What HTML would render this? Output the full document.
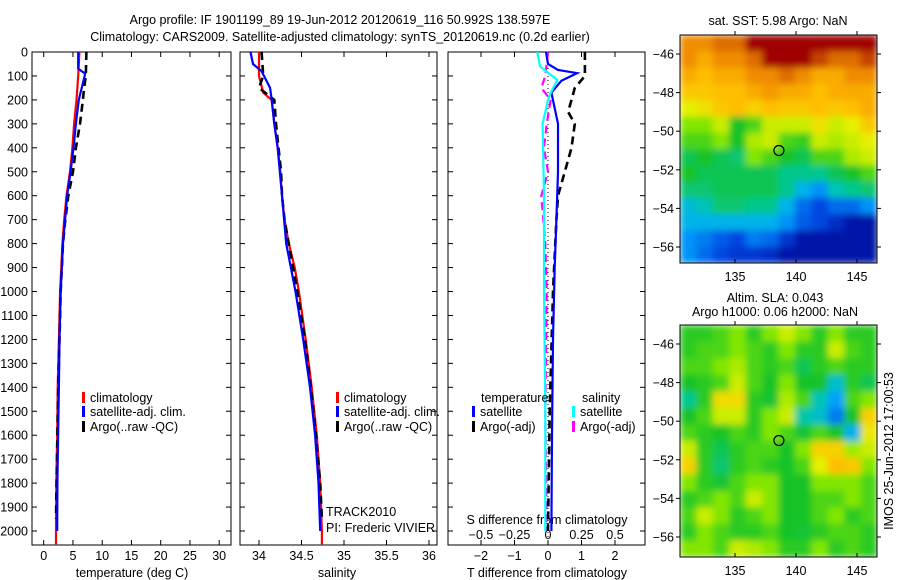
<!DOCTYPE html>
<html><head><meta charset="utf-8"><style>
body{margin:0;background:#fff}
svg{display:block;font-family:"Liberation Sans",sans-serif;font-size:12.5px}
</style></head><body>
<svg id="fig" width="900" height="580" viewBox="0 0 900 580"></svg>
<script>
// ---------- data ----------
const tDepth=[0,100,200,300,400,500,600,700,800,900,1000,1200,1400,1600,1800,2000,2055];
const tClim=[6.1,5.9,5.6,5.2,4.9,4.5,3.9,3.5,3.2,3.0,2.8,2.6,2.4,2.3,2.15,2.1,2.1];
const tSatDepth=[0,70,90,200,300,400,500,600,800,1000,1200,1400,1550,1800,2000];
const tSat=[5.9,5.9,7.1,6.0,5.5,5.1,4.6,4.0,3.3,2.9,2.7,2.6,2.5,2.35,2.3];
const argoDepth=[0,100,150,200,300,400,500,600,700,800,1000,1200,1400,1600,1800,1950];
const tArgo=[7.3,7.2,6.9,6.7,6.2,5.5,5.0,4.2,3.7,3.3,2.9,2.7,2.5,2.35,2.2,2.1];
const sClim=[34.0,34.0,34.05,34.15,34.18,34.22,34.25,34.27,34.3,34.35,34.42,34.47,34.55,34.62,34.68,34.72,34.74,34.74];
const sClimDepth=[0,100,170,200,300,400,500,600,700,800,900,1000,1200,1400,1600,1800,2000,2055];
const sSatDepth=[0,50,80,150,200,300,400,600,800,1000,1200,1400,1600,1800,2000];
const sSat=[33.9,33.93,34.03,34.13,34.15,34.18,34.22,34.27,34.32,34.43,34.52,34.6,34.66,34.7,34.72];
const sArgo=[34.03,34.05,34.0,34.18,34.2,34.23,34.26,34.27,34.3,34.35,34.45,34.54,34.61,34.67,34.72,34.74];
const dDepth=[0,50,75,88,120,170,300,500,700,900,1200,1600,2000];
const dT=[-0.06,0.0,0.3,0.87,0.4,0.1,0.3,0.3,0.25,0.2,0.15,0.12,0.1];
const dArgoDepth=[0,100,150,200,250,300,400,500,600,700,1000,1500,2000];
const dTArgo=[1.1,1.1,0.8,0.7,0.6,0.8,0.7,0.5,0.3,0.25,0.15,0.05,0.0];
const dSDepth=[0,60,117,170,200,300,600,1000,1500,2000];
const dS=[-0.08,-0.06,0.07,0.02,0.0,-0.04,-0.03,-0.03,-0.02,-0.02];
const dSArgoDepth=[0,100,150,200,300,400,500,600,800,1000,1500,2000];
const dSArgo=[0.0,-0.02,-0.05,0.02,-0.01,-0.03,0.0,-0.05,-0.02,-0.01,-0.02,-0.01];
const depthTicks=[0,100,200,300,400,500,600,700,800,900,1000,1100,1200,1300,1400,1500,1600,1700,1800,1900,2000];
const tTicks=[0,5,10,15,20,25,30];
const sTicks=[34,34.5,35,35.5,36];
const dTTicks=[-2,-1,0,1,2];
const dSTicks=[-0.5,-0.25,0,0.25,0.5];
const sstGrid=[
[.8,.8,.85,.85,.95,.95,.95,.95,.95,.95,.95,.95],
[.8,.75,.8,.8,.85,.95,.95,.95,.9,.85,.85,.9],
[.75,.72,.75,.75,.8,.8,.85,.8,.75,.75,.8,.8],
[.7,.7,.72,.72,.75,.78,.75,.75,.72,.75,.75,.75],
[.62,.65,.7,.72,.68,.72,.7,.7,.72,.7,.72,.75],
[.55,.55,.6,.45,.5,.6,.6,.6,.65,.6,.62,.7],
[.5,.5,.55,.45,.58,.6,.5,.48,.6,.58,.6,.62],
[.42,.45,.42,.4,.55,.5,.45,.42,.5,.5,.58,.6],
[.45,.42,.42,.42,.42,.42,.38,.38,.38,.42,.45,.5],
[.4,.4,.42,.42,.42,.42,.38,.3,.25,.35,.38,.4],
[.32,.35,.4,.4,.38,.38,.3,.2,.15,.2,.2,.25],
[.3,.3,.3,.3,.3,.3,.25,.18,.15,.1,.05,.05],
[.25,.22,.18,.15,.22,.2,.12,.05,.05,.05,.05,.05],
[.25,.2,.15,.12,.12,.1,.05,.05,.05,.05,.05,.05]];
const slaGrid=[
[.47,.47,.5,.55,.47,.55,.6,.55,.47,.55,.47,.47],
[.47,.5,.5,.55,.5,.47,.55,.47,.47,.6,.5,.47],
[.5,.5,.55,.58,.5,.47,.5,.42,.47,.5,.47,.47],
[.45,.47,.5,.6,.5,.45,.55,.45,.45,.33,.47,.42],
[.38,.47,.66,.66,.47,.44,.58,.5,.35,.27,.5,.55],
[.45,.5,.6,.6,.47,.55,.6,.36,.33,.22,.45,.68],
[.5,.47,.45,.5,.47,.55,.5,.44,.5,.45,.3,.64],
[.6,.47,.42,.47,.5,.5,.45,.55,.68,.68,.57,.6],
[.68,.47,.4,.47,.5,.47,.45,.5,.62,.72,.7,.55],
[.55,.47,.44,.5,.55,.55,.45,.45,.55,.55,.55,.5],
[.47,.5,.55,.5,.6,.55,.45,.45,.5,.5,.55,.5],
[.5,.6,.55,.47,.5,.55,.45,.45,.5,.55,.47,.5],
[.47,.55,.5,.47,.47,.5,.45,.44,.47,.5,.5,.47],
[.55,.55,.5,.6,.58,.55,.47,.47,.55,.47,.5,.47]];
const lonTicks=[135,140,145];
const latTicks=[-46,-48,-50,-52,-54,-56];
const argoLon=138.6, argoLat=-51.0;

// ---------- helpers ----------
const NS="http://www.w3.org/2000/svg", svg=document.getElementById('fig');
function el(tag,attrs,parent){const e=document.createElementNS(NS,tag);for(const k in attrs)e.setAttribute(k,attrs[k]);(parent||svg).appendChild(e);return e;}
function txt(x,y,s,anchor,name,extra){const t=el('text',Object.assign({x:x,y:y,'text-anchor':anchor||'start',fill:'#000'},extra||{}));t.textContent=s;


return t;}
const Y0=52, Y1=545, depthY=d=>Y0+d*0.2395;
function lin(d0,d1,p0,p1){return v=>p0+(v-d0)*(p1-p0)/(d1-d0);}
function line(xs,ds,fx,color,dash,name,w){
  const pts=xs.map((v,i)=>fx(v).toFixed(1)+','+depthY(ds[i]).toFixed(1)).join(' ');
  const p=el('polyline',{points:pts,fill:'none',stroke:color,'stroke-width':w||2.2});
  if(dash)p.setAttribute('stroke-dasharray',dash);
  
  
}
function panel(x0,x1,name){const r=el('rect',{x:x0,y:Y0,width:x1-x0,height:Y1-Y0,fill:'none',stroke:'#000','stroke-width':1});

}
function xticks(ticks,fx,y,labels,name){ticks.forEach(v=>{const x=fx(v);
  el('line',{x1:x,x2:x,y1:Y1,y2:Y1-5,stroke:'#000'});el('line',{x1:x,x2:x,y1:Y0,y2:Y0+5,stroke:'#000'});
  if(labels)txt(x,y,String(v).replace('-','\u2212'),'middle',name);});}
function legend(x,y,color,label,name){const r=el('rect',{x:x,y:y-10,width:3,height:11,fill:color});


txt(x+8,y,label,'start',name);}

const defs=el('defs',{});
const flt=el('filter',{id:'soft',x:'-5%',y:'-5%',width:'110%',height:'110%'},defs);
el('feGaussianBlur',{stdDeviation:'3.5',edgeMode:'duplicate'},flt);

// titles
txt(340,24,'Argo profile: IF 1901199_89 19-Jun-2012 20120619_116 50.992S 138.597E','middle','figure-title');
txt(340,41,'Climatology: CARS2009. Satellite-adjusted climatology: synTS_20120619.nc (0.2d earlier)','middle','figure-subtitle');

// panel 1 temperature
const fT=lin(0,30,43.7,219.2);
panel(32,231,'temperature-panel');
depthTicks.forEach(d=>{const y=depthY(d);el('line',{x1:32,x2:37,y1:y,y2:y,stroke:'#000'});el('line',{x1:226,x2:231,y1:y,y2:y,stroke:'#000'});txt(28,y+4.5,String(d),'end','depth-tick-label');});
xticks(tTicks,fT,560,true,'temperature-tick-label');
txt(132,577,'temperature (deg C)','middle','temperature-axis-title');
line(tClim,tDepth,fT,'#f00',null,'temp-climatology-line');
line(tArgo,argoDepth,fT,'#000','8,5','temp-argo-line',2.6);
line(tSat,tSatDepth,fT,'#00f',null,'temp-satellite-line');
legend(82,402,'#f00','climatology','legend-climatology');
legend(82,416,'#00f','satellite-adj. clim.','legend-satellite');
legend(82,431,'#000','Argo(..raw -QC)','legend-argo');

// panel 2 salinity
const fS=lin(34,36,259,429);
panel(240,437,'salinity-panel');
depthTicks.forEach(d=>{const y=depthY(d);el('line',{x1:240,x2:245,y1:y,y2:y,stroke:'#000'});el('line',{x1:432,x2:437,y1:y,y2:y,stroke:'#000'});});
xticks(sTicks,fS,560,true,'salinity-tick-label');
txt(337,577,'salinity','middle','salinity-axis-title');
line(sClim,sClimDepth,fS,'#f00',null,'sal-climatology-line');
line(sArgo,argoDepth,fS,'#000','8,5','sal-argo-line',2.6);
line(sSat,sSatDepth,fS,'#00f',null,'sal-satellite-line');
legend(336,402,'#f00','climatology','legend-climatology-2');
legend(336,416,'#00f','satellite-adj. clim.','legend-satellite-2');
legend(336,431,'#000','Argo(..raw -QC)','legend-argo-2');
txt(326,516,'TRACK2010','start','project-label');
txt(326,532,'PI: Frederic VIVIER','start','pi-label');

// panel 3 differences
const fDT=lin(0,1,548,581.5), fDS=lin(0,0.5,548,615);
panel(448,645,'difference-panel');
depthTicks.forEach(d=>{const y=depthY(d);el('line',{x1:448,x2:453,y1:y,y2:y,stroke:'#000'});el('line',{x1:640,x2:645,y1:y,y2:y,stroke:'#000'});});
xticks(dTTicks,fDT,560,true,'tdiff-tick-label');
dSTicks.forEach(v=>txt(fDS(v),539,String(v).replace('-','\u2212'),'middle','sdiff-tick-label'));
txt(547,524,'S difference from climatology','middle','sdiff-axis-title');
txt(547,577,'T difference from climatology','middle','tdiff-axis-title');
el('line',{x1:548,x2:548,y1:Y0,y2:Y1,stroke:'#000','stroke-dasharray':'1,3','stroke-width':1});
line(dSArgo,dSArgoDepth,fDS,'#f0f','8,5','sdiff-argo-line');
line(dTArgo,dArgoDepth,fDT,'#000','8,5','tdiff-argo-line',2.6);
line(dT,dDepth,fDT,'#00f',null,'tdiff-satellite-line');
line(dS,dSDepth,fDS,'#0ff',null,'sdiff-satellite-line');
txt(481,402,'temperature','start','legend-temperature-header');
legend(472,416,'#00f','satellite','legend-t-satellite');
legend(472,431,'#000','Argo(-adj)','legend-t-argo');
txt(582,402,'salinity','start','legend-salinity-header');
legend(572,416,'#0ff','satellite','legend-s-satellite');
legend(572,431,'#f0f','Argo(-adj)','legend-s-argo');

// maps
const stops=[[0,[0,0,140]],[.15,[0,70,225]],[.28,[0,170,255]],[.36,[0,200,170]],[.45,[20,195,40]],[.55,[130,230,0]],[.62,[230,240,0]],[.72,[255,190,0]],[.8,[240,140,0]],[.88,[210,90,0]],[.95,[160,0,0]],[1,[140,0,0]]];
function cmap(v){for(let i=1;i<stops.length;i++){if(v<=stops[i][0]){const a=stops[i-1],b=stops[i],t=(v-a[0])/(b[0]-a[0]);return 'rgb('+a[1].map((c,j)=>Math.round(c+(b[1][j]-c)*t)).join(',')+')';}}return 'rgb(140,0,0)';}
let clipN=0;
function map(grid,y0,y1,name){
  const x0=680,x1=877, fLon=lin(135,145,735,857), fLat=lin(-46,-56,y0+19,y0+212);
  const nr=grid.length,nc=grid[0].length,cw=(x1-x0)/nc,ch=(y1-y0)/nr;
  const cid='clip'+(clipN++);
  const cp=el('clipPath',{id:cid},defs);el('rect',{x:x0,y:y0,width:x1-x0,height:y1-y0},cp);
  const outer=el('g',{'clip-path':'url(#'+cid+')'});
  const g=el('g',{filter:'url(#soft)'},outer);
  
  
  grid.forEach((row,r)=>row.forEach((v,c)=>{const rc=el('rect',{x:(x0+c*cw).toFixed(2),y:(y0+r*ch).toFixed(2),width:(cw+0.6).toFixed(2),height:(ch+0.6).toFixed(2),fill:cmap(v)},g);
    
    }));
  el('rect',{x:x0,y:y0,width:x1-x0,height:y1-y0,fill:'none',stroke:'#000'});
  lonTicks.forEach(v=>{const x=fLon(v);el('line',{x1:x,x2:x,y1:y1,y2:y1-4,stroke:'#000'});el('line',{x1:x,x2:x,y1:y0,y2:y0-4,stroke:'#000'});txt(x,y1+18,String(v),'middle','lon-tick-label');});
  latTicks.forEach(v=>{const y=fLat(v);el('line',{x1:x0,x2:x0-4,y1:y,y2:y,stroke:'#000'});el('line',{x1:x1,x2:x1+4,y1:y,y2:y,stroke:'#000'});txt(x0-6,y+4.5,String(v).replace('-','\u2212'),'end','lat-tick-label');});
  const c=el('circle',{cx:fLon(argoLon),cy:fLat(argoLat),r:5,fill:'none',stroke:'#000','stroke-width':1.2});
  
  
}
map(sstGrid,35,263,'sst-map');
txt(778,25,'sat. SST: 5.98 Argo: NaN','middle','sst-map-title');
map(slaGrid,325,557,'sla-map');
txt(775,302,'Altim. SLA: 0.043','middle','sla-map-title');
txt(775,316,'Argo h1000: 0.06 h2000: NaN','middle','sla-map-subtitle');
txt(0,0,'IMOS 25-Jun-2012 17:00:53','middle','timestamp-label',{transform:'translate(893,451) rotate(-90)'});
</script>
</body></html>
